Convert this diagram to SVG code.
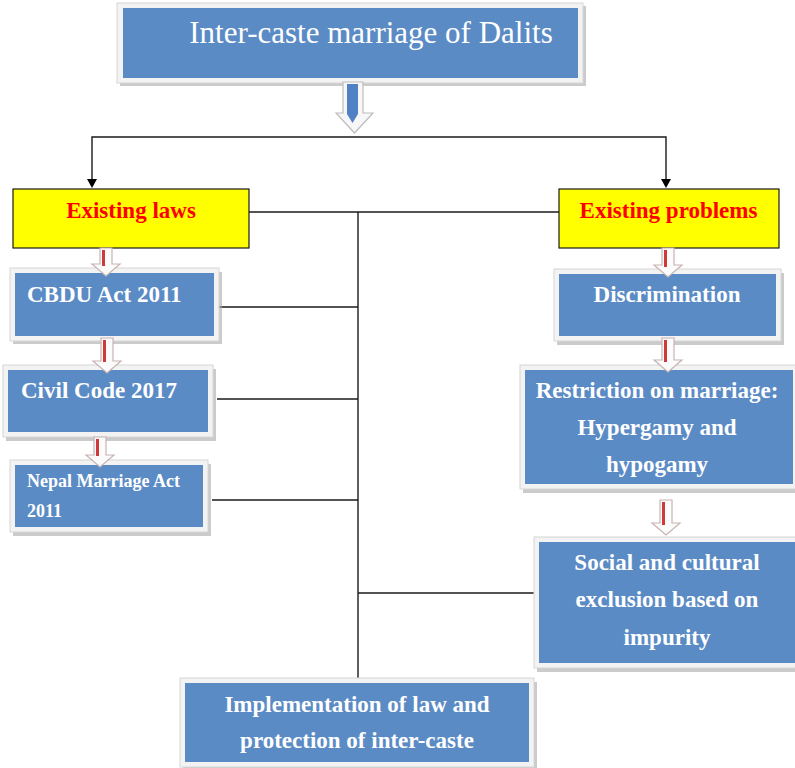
<svg xmlns="http://www.w3.org/2000/svg" width="795" height="768" viewBox="0 0 795 768">
<style>
.frame{fill:#f3f3f3;stroke:#d6d6d6;stroke-width:1}
.shadow{fill:#a9a9a9;opacity:0.6}
.blue{fill:#5b8bc5}
.yellow{fill:#ffff00;stroke:#1a1a1a;stroke-width:1.2}
.t{font-family:"Liberation Serif","Times New Roman",serif;font-weight:bold;font-size:23px;fill:#ffffff}
.title{font-family:"Liberation Serif","Times New Roman",serif;font-size:31px;fill:#ffffff}
.red{font-family:"Liberation Serif","Times New Roman",serif;font-weight:bold;font-size:23px;fill:#ff0000}
.conn{fill:none;stroke:#1a1a1a;stroke-width:1.4}
.head{fill:#000}
.ra{fill:#fbfbfb;stroke:#c9b3b3;stroke-width:1.2}
.rl{fill:#d0393a}
</style>

<g id="connectors">
<path class="conn" d="M354,137 H92 V180"/>
<path class="head" d="M87,179 H97 L92,188 Z"/>
<path class="conn" d="M354,137 H666 V180"/>
<path class="head" d="M661,179 H671 L666,188 Z"/>
<path class="conn" d="M249,212 H559"/>
<path class="conn" d="M358,212 V680"/>
<path class="conn" d="M217,307 H358"/>
<path class="conn" d="M217,399 H358"/>
<path class="conn" d="M212,500 H358"/>
<path class="conn" d="M358,593 H539"/>
</g>

<g id="title">
<rect class="shadow" x="120" y="6" width="466" height="80"/>
<rect class="frame" x="117" y="3" width="466" height="80"/>
<rect class="blue" x="123" y="8" width="455" height="70"/>
<text class="title" x="371" y="43" text-anchor="middle">Inter-caste marriage of Dalits</text>
</g>

<g id="existing-laws">
<rect class="yellow" x="13" y="189" width="236" height="59"/>
<text class="red" x="131" y="218" text-anchor="middle">Existing laws</text>
</g>

<g id="existing-problems">
<rect class="yellow" x="559" y="189" width="220" height="59"/>
<text class="red" x="668.5" y="218" text-anchor="middle">Existing problems</text>
</g>

<g id="cbdu">
<rect class="shadow" x="13" y="272" width="209" height="72"/>
<rect class="frame" x="10" y="268" width="209" height="73"/>
<rect class="blue" x="15" y="273" width="199" height="63"/>
<text class="t" x="27" y="302">CBDU Act 2011</text>
</g>

<g id="civil-code">
<rect class="shadow" x="6" y="369" width="210" height="72"/>
<rect class="frame" x="3" y="365" width="210" height="72"/>
<rect class="blue" x="8" y="370" width="200" height="62"/>
<text class="t" x="21" y="398">Civil Code 2017</text>
</g>

<g id="nepal-marriage">
<rect class="shadow" x="13" y="464" width="198" height="72"/>
<rect class="frame" x="10" y="460" width="198" height="72"/>
<rect class="blue" x="15" y="465" width="188" height="62"/>
<text class="t" x="27" y="487" style="font-size:18px">Nepal Marriage Act</text>
<text class="t" x="27" y="517" style="font-size:18px">2011</text>
</g>

<g id="discrimination">
<rect class="shadow" x="557" y="273" width="227" height="72"/>
<rect class="frame" x="554" y="269" width="227" height="72"/>
<rect class="blue" x="559" y="274" width="217" height="62"/>
<text class="t" x="667" y="302" text-anchor="middle">Discrimination</text>
</g>

<g id="restriction">
<rect class="shadow" x="523" y="369" width="278" height="124"/>
<rect class="frame" x="520" y="365" width="278" height="124"/>
<rect class="blue" x="525" y="370" width="268" height="114"/>
<text class="t" x="657" y="398" text-anchor="middle">Restriction on marriage:</text>
<text class="t" x="657" y="435" text-anchor="middle">Hypergamy and</text>
<text class="t" x="657" y="472" text-anchor="middle">hypogamy</text>
</g>

<g id="social-exclusion">
<rect class="shadow" x="537" y="541" width="262" height="131"/>
<rect class="frame" x="534" y="537" width="262" height="131"/>
<rect class="blue" x="539" y="542" width="256" height="121"/>
<text class="t" x="667" y="570" text-anchor="middle">Social and cultural</text>
<text class="t" x="667" y="607" text-anchor="middle">exclusion based on</text>
<text class="t" x="667" y="645" text-anchor="middle">impurity</text>
</g>

<g id="implementation">
<rect class="shadow" x="183" y="682" width="354" height="89"/>
<rect class="frame" x="180" y="678" width="354" height="89"/>
<rect class="blue" x="185" y="683" width="344" height="79"/>
<text class="t" x="357" y="712" text-anchor="middle">Implementation of law and</text>
<text class="t" x="357" y="748" text-anchor="middle">protection of inter-caste</text>
</g>

<g id="blue-arrow">
<path d="M343,82 H363 V113 H373 L354.5,133 L336,113 H343 Z" fill="#f7f7f7" stroke="#bdbdbd" stroke-width="1.2"/>
<path d="M347,84 H358 V114 L352.5,123 L347,114 Z" fill="#4f81c4"/>
</g>

<g id="red-arrows">
<path class="ra" d="M100,248 H112 V264 H120 L106,276 L92,264 H100 Z"/><rect class="rl" x="102" y="250" width="3" height="16"/>
<path class="ra" d="M101,338 H113 V361 H121 L107,373 L93,361 H101 Z"/><rect class="rl" x="103" y="340" width="3" height="22"/>
<path class="ra" d="M94,437 H106 V455 H114 L100,467 L86,455 H94 Z"/><rect class="rl" x="96" y="439" width="3" height="17"/>
<path class="ra" d="M662,248 H674 V265 H682 L668,277 L654,265 H662 Z"/><rect class="rl" x="664" y="250" width="3" height="17"/>
<path class="ra" d="M662,338 H674 V360 H682 L668,372 L654,360 H662 Z"/><rect class="rl" x="664" y="340" width="3" height="22"/>
<path class="ra" d="M660,500 H672 V523 H680 L666,535 L652,523 H660 Z"/><rect class="rl" x="662" y="502" width="3" height="23"/>
</g>
</svg>
